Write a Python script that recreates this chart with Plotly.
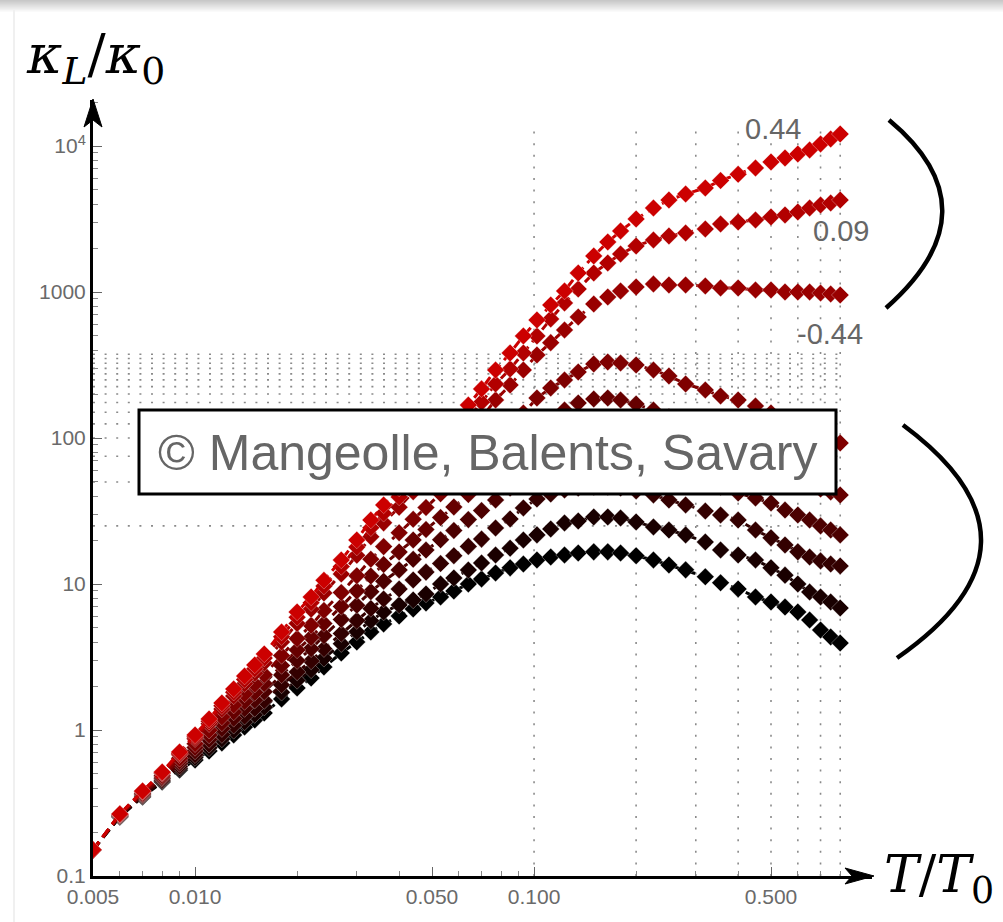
import math
import plotly.graph_objects as go

# ---------------- data ----------------
T = [0.005, 0.006, 0.007, 0.008, 0.009, 0.010, 0.011, 0.012, 0.013, 0.014, 0.015, 0.016,
     0.018, 0.020, 0.022, 0.024, 0.027, 0.030, 0.033, 0.036, 0.040, 0.044, 0.048, 0.053,
     0.058, 0.064, 0.070, 0.077, 0.085, 0.093, 0.102, 0.112, 0.123, 0.135, 0.150, 0.165,
     0.180, 0.200, 0.225, 0.250, 0.280, 0.320, 0.355, 0.400, 0.450, 0.500, 0.550, 0.600,
     0.650, 0.700, 0.750, 0.800]

K1 = [0.151, 0.266, 0.382, 0.515, 0.707, 0.924, 1.19, 1.53, 1.91, 2.34, 2.79, 3.32, 4.69, 6.43,
      8.15, 10.6, 14.6, 20.0, 27.4, 34.8, 45.5, 59.4, 75.3, 100, 127, 168, 217, 292, 382, 500,
      643, 815, 1016, 1349, 1765, 2200, 2617, 3162, 3761, 4267, 4692, 5157, 5800, 6400, 7069,
      7772, 8276, 8814, 9389, 10320, 11170, 12085]
K2 = [0.151, 0.266, 0.380, 0.509, 0.692, 0.899, 1.149, 1.465, 1.815, 2.214, 2.623, 3.108, 4.355,
      5.914, 7.446, 9.674, 13.18, 17.89, 24.27, 30.50, 39.44, 51.00, 64.00, 83.95, 105.2, 138.2,
      175.6, 234.4, 296.9, 382.1, 499.5, 653.3, 840.8, 1048, 1349, 1580, 1821, 2066, 2271, 2419,
      2536, 2701, 2923, 3017, 3114, 3264, 3369, 3531, 3761, 3944, 4071, 4267]
K3 = [0.151, 0.265, 0.377, 0.503, 0.677, 0.871, 1.103, 1.393, 1.712, 2.076, 2.447, 2.884, 4.003,
      5.373, 6.725, 8.670, 11.71, 15.73, 21.05, 26.23, 33.57, 42.87, 53.21, 68.60, 85.13, 110.1,
      138.2, 182.1, 230.7, 292.3, 370.3, 450.0, 549.2, 674.4, 827.7, 924.4, 1016, 1082, 1134,
      1117, 1117, 1099, 1065, 1065, 1032, 1032, 1000, 1000, 1000, 984, 969, 954]
K4 = [0.151, 0.262, 0.369, 0.487, 0.640, 0.805, 0.997, 1.228, 1.481, 1.767, 2.058, 2.394, 3.240,
      4.227, 5.211, 6.590, 8.733, 11.40, 14.79, 18.03, 22.42, 27.75, 33.42, 41.54, 50.12, 62.60,
      75.88, 95.4, 117.1, 148.3, 187.9, 220.0, 249.6, 283.2, 321.2, 331.5, 326.3, 316.2, 292.3,
      265.9, 234.4, 213.2, 194.0, 182.1, 165.7, 148.3, 132.8, 120.8, 111.7, 103.2, 96.9, 92.4]
K5 = [0.151, 0.261, 0.364, 0.476, 0.613, 0.759, 0.924, 1.117, 1.328, 1.567, 1.806, 2.082, 2.765,
      3.531, 4.300, 5.364, 7.014, 8.955, 11.34, 13.60, 16.57, 20.02, 23.62, 28.54, 33.69, 41.02,
      48.41, 59.43, 76.5, 93.9, 113.4, 134.9, 155.5, 173.7, 185.0, 187.9, 182.1, 170.9, 155.5,
      139.3, 122.7, 106.5, 93.9, 82.8, 72.9, 64.3, 56.7, 51.6, 47.6, 44.7, 42.7, 40.7]
K6 = [0.151, 0.259, 0.360, 0.466, 0.590, 0.718, 0.861, 1.022, 1.201, 1.402, 1.600, 1.827, 2.385,
      2.987, 3.598, 4.425, 5.712, 7.148, 8.858, 10.45, 12.49, 14.76, 17.07, 20.08, 23.25, 27.61,
      31.83, 37.61, 45.5, 53.2, 61.3, 68.5, 75.3, 80.2, 82.8, 82.8, 81.5, 77.7, 71.8, 65.3, 58.5,
      51.6, 46.2, 42.0, 38.8, 35.9, 32.1, 29.7, 27.4, 25.0, 23.4, 21.7]
K7 = [0.151, 0.257, 0.355, 0.455, 0.565, 0.677, 0.798, 0.930, 1.077, 1.241, 1.405, 1.590, 2.037,
      2.496, 2.969, 3.605, 4.581, 5.614, 6.796, 7.894, 9.228, 10.65, 12.06, 13.80, 15.62, 18.10,
      20.30, 24.19, 27.9, 33.2, 38.2, 41.3, 44.0, 45.5, 46.2, 46.2, 45.5, 43.4, 40.7, 37.6, 34.8,
      31.6, 29.7, 27.4, 23.4, 20.7, 18.5, 16.6, 15.3, 14.4, 13.7, 13.3]
K8 = [0.151, 0.255, 0.351, 0.447, 0.547, 0.648, 0.755, 0.868, 0.994, 1.136, 1.277, 1.435, 1.812,
      2.186, 2.580, 3.098, 3.900, 4.706, 5.596, 6.421, 7.181, 7.771, 8.543, 10.0, 10.99, 12.47,
      13.93, 15.80, 17.6, 20.0, 21.7, 23.8, 26.2, 27.0, 28.8, 28.8, 28.3, 26.6, 24.6, 23.4, 21.7,
      19.4, 17.1, 15.8, 14.6, 12.9, 11.5, 10.0, 8.81, 8.15, 7.53, 6.85]
K9 = [0.151, 0.254, 0.348, 0.440, 0.532, 0.623, 0.718, 0.815, 0.924, 1.048, 1.171, 1.307, 1.631,
      1.940, 2.271, 2.701, 3.369, 4.006, 4.692, 5.321, 6.036, 6.742, 7.411, 8.147, 8.955, 10.0,
      10.82, 11.89, 12.9, 13.7, 14.6, 15.3, 15.8, 16.3, 16.6, 16.6, 16.3, 15.6, 14.6, 13.5, 12.5,
      11.2, 10.2, 9.25, 8.15, 7.53, 6.95, 6.43, 5.67, 4.84, 4.34, 3.94]

SERIES = [K1, K2, K3, K4, K5, K6, K7, K8, K9]
NAMES = ["0.44", "0.09", "-0.44", "curve 4", "curve 5", "curve 6", "curve 7", "curve 8", "curve 9"]
COLORS = ["rgb(204,0,0)", "rgb(178,0,0)", "rgb(153,0,0)", "rgb(127,0,0)", "rgb(102,0,0)",
          "rgb(76,0,0)", "rgb(51,0,0)", "rgb(25,0,0)", "rgb(0,0,0)"]

CURVE_LABELS = ["0.44", "0.09", "-0.44"]

X_TICKS = [0.005, 0.01, 0.05, 0.1, 0.5]
X_TICKTEXT = ["0.005", "0.010", "0.050", "0.100", "0.500"]
X_MINOR = [0.006, 0.007, 0.008, 0.009, 0.02, 0.03, 0.04, 0.06, 0.07, 0.08, 0.09,
           0.2, 0.3, 0.4, 0.6, 0.7, 0.8, 0.9]
Y_TICKS = [0.1, 1, 10, 100, 1000, 10000]
Y_TICKTEXT = ["0.1", "1", "10", "100", "1000", "10<sup>4</sup>"]
Y_MINOR = [m * d for d in (0.1, 1, 10, 100, 1000, 10000) for m in range(2, 10)]

GRID_T = [0.1, 0.2, 0.3, 0.4, 0.5, 0.6, 0.7, 0.8]
GRID_T_SPAN = [0.1, 13000]
GRID_K = [25, 50, 75, 100, 125, 150, 175, 200, 225, 250, 275, 300, 325, 350, 375]
GRID_K_SPAN = [0.005, 0.8]

for s in SERIES:
    assert len(s) == len(T)

# ---------------- layout geometry ----------------
W, H = 1003, 922
ML, MR, MT, MB = 93, 131, 100, 46
PW, PH = W - ML - MR, H - MT - MB
PX_PER_DEC_X, PX_PER_DEC_Y = 339.0, 146.0


def px(x):
    return (x - ML) / PW


def py(y):
    return (H - MB - y) / PH


fig = go.Figure()

# dotted grid
gx, gy = [], []
for t in GRID_T:
    gx += [t, t, None]
    gy += [GRID_T_SPAN[0], GRID_T_SPAN[1], None]
for k in GRID_K:
    gx += [GRID_K_SPAN[0], GRID_K_SPAN[1], None]
    gy += [k, k, None]
fig.add_trace(go.Scatter(x=gx, y=gy, mode="lines", hoverinfo="skip", showlegend=False,
                         line=dict(color="#8a8a8a", width=1.6, dash="2px,9.6px")))

# series, darkest first so the red ones sit on top
for vals, name, col in reversed(list(zip(SERIES, NAMES, COLORS))):
    fig.add_trace(go.Scatter(
        x=T, y=vals, name=name, mode="lines+markers", showlegend=False,
        line=dict(color=col, width=3, dash="10px,6px"),
        marker=dict(symbol="diamond", size=13.5, color=col,
                    line=dict(color="rgba(255,255,255,0.5)", width=0.6)),
    ))

x0 = math.log10(0.005)
fig.update_xaxes(
    type="log", range=[x0, x0 + PW / PX_PER_DEC_X],
    showline=True, linecolor="black", linewidth=3, showgrid=False, zeroline=False,
    ticks="inside", ticklen=9, tickwidth=1.3, tickcolor="#666",
    tickvals=X_TICKS, ticktext=X_TICKTEXT,
    tickfont=dict(family="Liberation Sans", size=21, color="#6a6a6a"),
    minor=dict(tickvals=X_MINOR, ticks="inside", ticklen=5, tickwidth=1.1, tickcolor="#888"),
)
fig.update_yaxes(
    type="log", range=[-1, -1 + PH / PX_PER_DEC_Y],
    showline=True, linecolor="black", linewidth=3, showgrid=False, zeroline=False,
    ticks="inside", ticklen=9, tickwidth=1.3, tickcolor="#666",
    tickvals=Y_TICKS, ticktext=Y_TICKTEXT,
    tickfont=dict(family="Liberation Sans", size=21, color="#6a6a6a"),
    minor=dict(tickvals=Y_MINOR, ticks="inside", ticklen=5, tickwidth=1.1, tickcolor="#888"),
)

shapes = []
# soft card shadow at the top / left edge
for i in range(12):
    g = int(200 + i * 4.6)
    shapes.append(dict(type="line", xref="paper", yref="paper", x0=px(0), x1=px(W),
                       y0=py(i + 0.5), y1=py(i + 0.5),
                       line=dict(color=f"rgb({g},{g},{g})", width=1.2), layer="above"))
shapes.append(dict(type="line", xref="paper", yref="paper", x0=px(14), x1=px(14),
                   y0=py(10), y1=py(H), line=dict(color="#f0f0f0", width=2), layer="above"))

# arrow heads
shapes.append(dict(type="path", xref="paper", yref="paper", layer="above",
                   path=f"M{px(93)},{py(99)} L{px(102)},{py(127)} L{px(93)},{py(120)} L{px(84)},{py(127)} Z",
                   fillcolor="black", line=dict(color="black", width=1)))
shapes.append(dict(type="path", xref="paper", yref="paper", layer="above",
                   path=f"M{px(874)},{py(876)} L{px(845)},{py(868)} L{px(852)},{py(876)} L{px(845)},{py(884)} Z",
                   fillcolor="black", line=dict(color="black", width=1)))

# brackets
shapes.append(dict(type="path", xref="paper", yref="paper", layer="above",
                   path=f"M{px(889)},{py(120)} Q{px(997)},{py(210)} {px(886)},{py(308)}",
                   line=dict(color="black", width=4.5)))
shapes.append(dict(type="path", xref="paper", yref="paper", layer="above",
                   path=f"M{px(903)},{py(425)} Q{px(1062)},{py(543)} {px(897)},{py(658)}",
                   line=dict(color="black", width=4.5)))

# copyright box
shapes.append(dict(type="rect", xref="paper", yref="paper", layer="above",
                   x0=px(139), x1=px(836), y0=py(494), y1=py(410),
                   fillcolor="white", line=dict(color="black", width=3)))

C = dict(xanchor="center", yanchor="middle", showarrow=False, xref="paper", yref="paper")
annotations = [
    dict(x=px(487.5), y=py(453), text="© Mangeolle, Balents, Savary",
         font=dict(family="Liberation Sans", size=50, color="#666666"), **C),
    dict(x=px(773), y=py(129), text=CURVE_LABELS[0],
         font=dict(family="Liberation Sans", size=29, color="#666666"), **C),
    dict(x=px(841), y=py(231), text=CURVE_LABELS[1],
         font=dict(family="Liberation Sans", size=29, color="#666666"), **C),
    dict(x=px(830), y=py(334), text=CURVE_LABELS[2],
         font=dict(family="Liberation Sans", size=29, color="#666666"), **C),
    dict(xref="paper", yref="paper", x=px(24), y=py(58), xanchor="left", yanchor="middle",
         showarrow=False,
         text="<i>κ</i><sub><i>L</i></sub>/<i>κ</i><sub>0</sub>",
         font=dict(family="DejaVu Serif", size=54, color="black")),
    dict(xref="paper", yref="paper", x=px(882), y=py(878), xanchor="left", yanchor="middle",
         showarrow=False,
         text="<i>T</i>/<i>T</i><sub>0</sub>",
         font=dict(family="DejaVu Serif", size=52, color="black")),
]

fig.update_layout(
    width=W, height=H, margin=dict(l=ML, r=MR, t=MT, b=MB, pad=0),
    paper_bgcolor="white", plot_bgcolor="white", showlegend=False,
    shapes=shapes, annotations=annotations,
)

fig.write_html("out.html")
